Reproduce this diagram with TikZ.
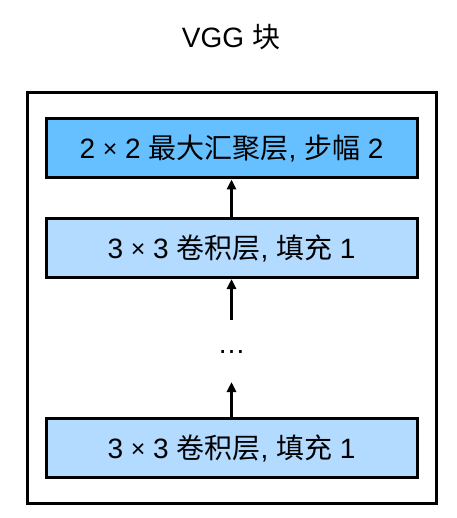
\documentclass[tikz,border=0pt]{standalone}
\usepackage{fontspec}
\setmainfont{Liberation Sans}
\newfontfamily\cjk{Noto Sans CJK SC}
\usetikzlibrary{arrows.meta}
\definecolor{poolblue}{HTML}{66BFFF}
\definecolor{convblue}{HTML}{B3DAFF}
\newcommand{\tms}{\raisebox{1pt}{\fontsize{25}{28}\selectfont ×}}
\begin{document}
\begin{tikzpicture}[x=1pt,y=-1pt,
  txt/.style={font=\fontsize{28}{31}\selectfont},
  layerbox/.style={txt,draw=black,line width=3pt,minimum width=371pt,minimum height=59pt,inner sep=0pt},
  arr/.style={line width=2.8pt,-{Triangle[length=10pt,width=9pt]}}]
\useasboundingbox (0,0) rectangle (456,518);
\node[draw=black,line width=3pt,minimum width=409pt,minimum height=410pt,inner sep=0pt] (outer) at (231.5,298) {};
\node[txt] (title) at (231,37) {VGG {\cjk 块}};
\node[layerbox,fill=poolblue] (pool) at (231.5,148.5) {2 \tms{} 2 {\cjk 最大汇聚层}, {\cjk 步幅} 2};
\node[layerbox,fill=convblue] (conv2) at (231.5,248) {3 \tms{} 3 {\cjk 卷积层}, {\cjk 填充} 1};
\node[txt] (dots) at (231.5,352) {…};
\node[layerbox,fill=convblue] (conv1) at (231.5,448) {3 \tms{} 3 {\cjk 卷积层}, {\cjk 填充} 1};
\coordinate (a1) at (231.5,320);
\coordinate (a2) at (231.5,382);
\draw[arr] (conv2.north) -- (pool.south);
\draw[arr] (a1) -- (conv2.south);
\draw[arr] (conv1.north) -- (a2);
\end{tikzpicture}
\end{document}
